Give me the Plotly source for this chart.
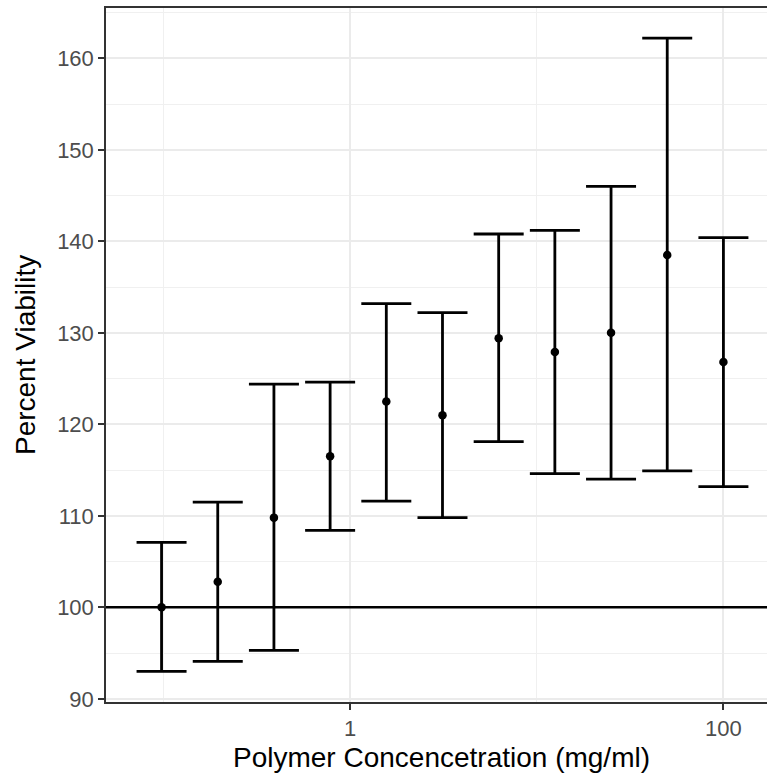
import plotly.graph_objects as go

# Data
concentration = [0.09765625, 0.1953125, 0.390625, 0.78125, 1.5625, 3.125,
                 6.25, 12.5, 25, 50, 100]
viability_mean = [100.0, 102.8, 109.8, 116.5, 122.5, 121.0, 129.4, 127.9, 130.0, 138.5, 126.8]
viability_upper = [107.1, 111.5, 124.4, 124.6, 133.2, 132.2, 140.8, 141.2, 146.0, 162.2, 140.4]
viability_lower = [93.0, 94.1, 95.3, 108.4, 111.6, 109.8, 118.1, 114.6, 114.0, 114.9, 113.2]
y_ticks = [90, 100, 110, 120, 130, 140, 150, 160]
x_ticks = [1, 100]
x_tick_labels = ["1", "100"]
reference_level = 100
x_title = "Polymer Concencetration (mg/ml)"
y_title = "Percent Viability"

err_plus = [u - m for u, m in zip(viability_upper, viability_mean)]
err_minus = [m - l for m, l in zip(viability_mean, viability_lower)]

FONT = "Liberation Sans, Arial, Helvetica, sans-serif"

fig = go.Figure()
fig.add_trace(go.Scatter(
    x=concentration, y=viability_mean, mode="markers",
    marker=dict(color="black", size=8.5),
    error_y=dict(type="data", symmetric=False, array=err_plus, arrayminus=err_minus,
                 color="black", thickness=2.8, width=25),
    showlegend=False, hoverinfo="skip",
))

fig.add_shape(type="line", xref="paper", x0=0, x1=1, yref="y",
              y0=reference_level, y1=reference_level,
              line=dict(color="black", width=2.5), layer="above")

fig.add_annotation(text=x_title, xref="paper", yref="paper", x=0.508, y=-0.0795,
                   xanchor="center", yanchor="middle", showarrow=False,
                   font=dict(size=28, color="black", family=FONT))
fig.add_annotation(text=y_title, xref="paper", yref="paper", x=-0.1225, y=0.5,
                   xanchor="center", yanchor="middle", textangle=-90, showarrow=False,
                   font=dict(size=28, color="black", family=FONT))

fig.update_layout(
    width=767, height=777,
    margin=dict(l=106, r=0, t=8, b=75, autoexpand=False),
    paper_bgcolor="white", plot_bgcolor="white",
    font=dict(family=FONT, color="black"),
    xaxis=dict(
        type="log", range=[-1.308, 2.2335], automargin=False,
        tickmode="array", tickvals=x_ticks, ticktext=x_tick_labels,
        ticks="outside", ticklen=6, tickwidth=2, tickcolor="#333333",
        tickfont=dict(size=22, color="#4d4d4d"),
        showgrid=True, gridcolor="#ebebeb", gridwidth=1.6,
        minor=dict(tickvals=[0.1, 10], showgrid=True, gridcolor="#f0f0f0",
                   gridwidth=1, ticklen=0),
        showline=True, mirror=True, linecolor="#333333", linewidth=1.5,
        zeroline=False,
    ),
    yaxis=dict(
        range=[89.65, 165.5], automargin=False,
        tickmode="array", tickvals=y_ticks,
        ticks="outside", ticklen=6, tickwidth=2, tickcolor="#333333",
        tickfont=dict(size=22, color="#4d4d4d"),
        showgrid=True, gridcolor="#ebebeb", gridwidth=1.6,
        minor=dict(dtick=5, tick0=95, showgrid=True, gridcolor="#f0f0f0",
                   gridwidth=1, ticklen=0),
        showline=True, mirror=False, linecolor="#333333", linewidth=1.5,
        zeroline=False,
    ),
)

# remove the browser's default 8px body margin so the figure fills the window exactly
fig.write_html("out.html", config={"displayModeBar": False},
               post_script="document.body.style.margin='0';document.body.style.overflow='hidden';")
